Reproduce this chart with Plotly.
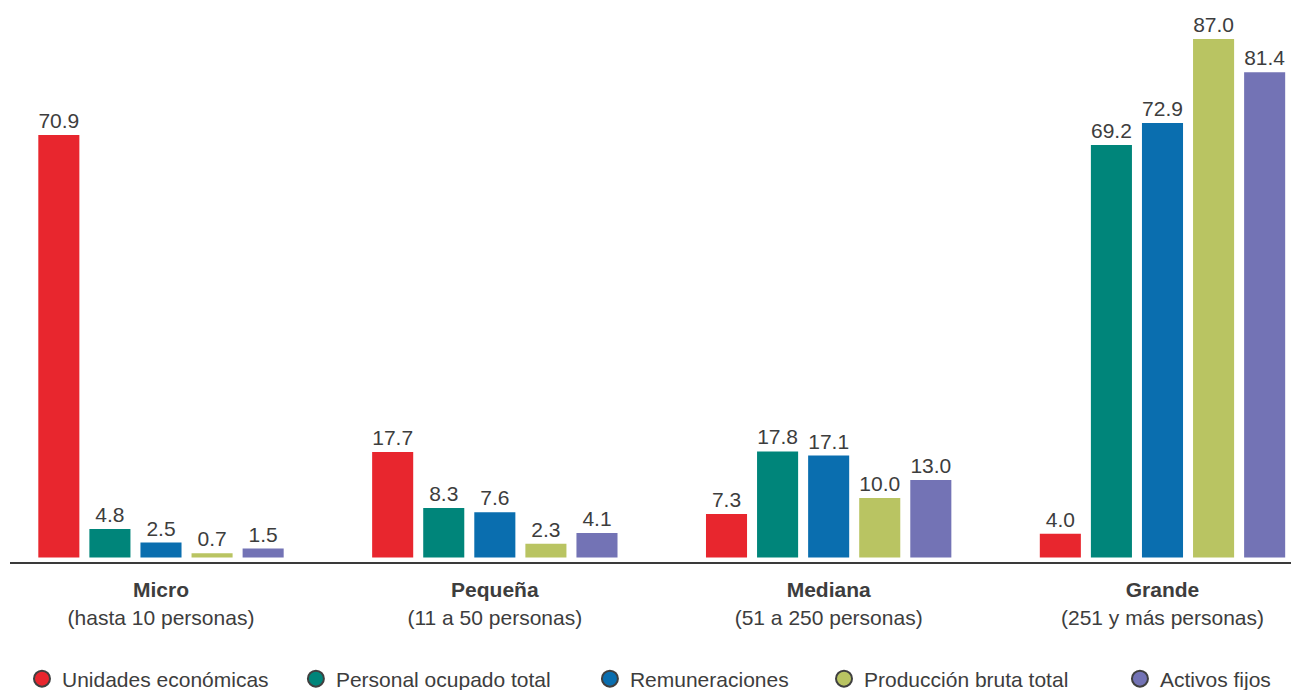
import plotly.graph_objects as go

# Size categories (stratum) and their subtitle
estratos = ['Micro', 'Pequeña', 'Mediana', 'Grande']
subtitulos = ['(hasta 10 personas)', '(11 a 50 personas)', '(51 a 250 personas)', '(251 y más personas)']

# Series: share (%) per stratum
series = ['Unidades económicas', 'Personal ocupado total', 'Remuneraciones',
          'Producción bruta total', 'Activos fijos']
unidades = [70.9, 17.7, 7.3, 4.0]
personal = [4.8, 8.3, 17.8, 69.2]
remuneraciones = [2.5, 7.6, 17.1, 72.9]
produccion = [0.7, 2.3, 10.0, 87.0]
activos = [1.5, 4.1, 13.0, 81.4]

colores = ['#E8262E', '#00857A', '#0A6EAF', '#B9C462', '#7373B5']
valores = [unidades, personal, remuneraciones, produccion, activos]

txt = '#3d3d3d'
fnt = 'Arial, Liberation Sans, sans-serif'

x_pos = list(range(len(estratos)))
ticktext = ['<b>%s</b><br>%s' % (e, s) for e, s in zip(estratos, subtitulos)]

fig = go.Figure()

for name, vals, col in zip(series, valores, colores):
    fig.add_trace(go.Bar(
        x=x_pos, y=vals, name=name,
        marker=dict(color=col, line=dict(width=0)),
        text=['%.1f' % v for v in vals],
        textposition='outside',
        textfont=dict(size=21, color=txt, family=fnt),
        cliponaxis=False,
        showlegend=False,
    ))

# legend entries drawn as circles, each in its own legend box
legend_x = [0.0093, 0.2218, 0.4499, 0.6315, 0.8611]
for i, (name, col) in enumerate(zip(series, colores)):
    lg = 'legend' if i == 0 else 'legend%d' % (i + 1)
    fig.add_trace(go.Scatter(
        x=[None], y=[None], mode='markers', name=name,
        marker=dict(symbol='circle', size=22, color=col,
                    line=dict(color='#404040', width=2)),
        legend=lg, showlegend=True,
    ))

layout_legends = {}
for i, lx in enumerate(legend_x):
    lg = 'legend' if i == 0 else 'legend%d' % (i + 1)
    layout_legends[lg] = dict(
        x=lx, y=-0.2112, xanchor='left', yanchor='middle',
        orientation='h', bgcolor='rgba(0,0,0,0)',
        font=dict(size=21, color=txt, family=fnt),
        itemsizing='trace',
    )

# page body has an 8px margin, so the figure is sized to the visible area
fig.update_layout(
    width=1291, height=682,
    margin=dict(l=2, r=0, t=0, b=128, autoexpand=False),
    paper_bgcolor='white', plot_bgcolor='white',
    barmode='group', bargap=0.235, bargroupgap=0.196,
    font=dict(family=fnt, color=txt, size=21),
    xaxis=dict(
        range=[-0.4523, 3.4089],
        tickvals=x_pos, ticktext=ticktext,
        tickfont=dict(size=21, color=txt, family=fnt),
        ticklabelstandoff=8,
        showline=True, linecolor='#3a3a3a', linewidth=2,
        showgrid=False, zeroline=False, ticks='',
        automargin=False,
    ),
    yaxis=dict(
        range=[-0.755, 92.2],
        showticklabels=False, showgrid=False, zeroline=False, showline=False,
        automargin=False,
    ),
    **layout_legends,
)

fig.write_html("out.html")
